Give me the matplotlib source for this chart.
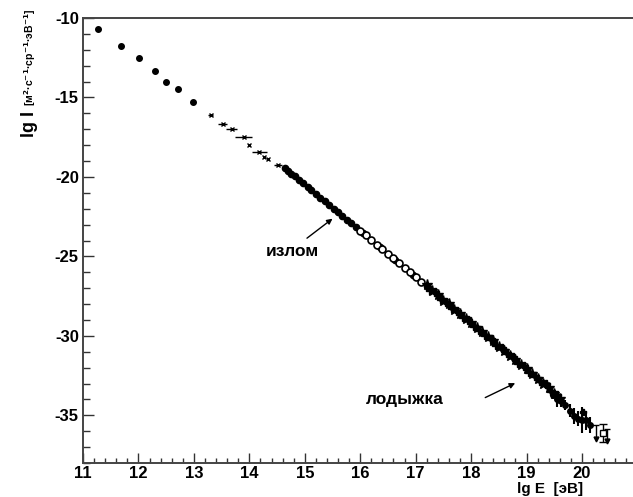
import numpy as np
import matplotlib
matplotlib.use("Agg")
import matplotlib.pyplot as plt
from matplotlib.ticker import MultipleLocator

plt.rcParams['font.family'] = ['Liberation Sans', 'DejaVu Sans']
plt.rcParams['font.weight'] = 'bold'
plt.rcParams['axes.unicode_minus'] = False

# direct measurements (big dots)
direct_x = [11.27, 11.68, 12.01, 12.30, 12.50, 12.71, 12.98]
direct_y = [-10.69, -11.76, -12.52, -13.33, -14.03, -14.47, -15.28]

# sparse points with horizontal bars
sparse_x = [13.30, 13.52, 13.68, 13.90, 13.99, 14.18, 14.27, 14.33, 14.52]
sparse_y = [-16.10, -16.67, -17.00, -17.50, -18.00, -18.40, -18.75, -18.90, -19.25]
sparse_xerr = [0.05, 0.08, 0.10, 0.15, 0.0, 0.13, 0.02, 0.02, 0.07]

# filled small circles
filled_x = [14.64, 14.70, 14.76, 14.82, 14.90, 14.97, 15.05, 15.12, 15.20,
            15.28, 15.36, 15.44, 15.52, 15.60, 15.68, 15.76, 15.84, 15.92,
            16.05, 16.35, 16.62, 16.95, 17.20]
filled_y = [-19.44, -19.62, -19.79, -19.97, -20.20, -20.40, -20.63, -20.84, -21.07,
            -21.30, -21.53, -21.76, -22.00, -22.23, -22.46, -22.69, -22.92, -23.16,
            -23.55, -24.42, -25.20, -26.15, -26.87]

# open circles
open_x = [16.00, 16.10, 16.20, 16.30, 16.40, 16.50, 16.60, 16.70, 16.80, 16.90, 17.00, 17.10]
open_y = [-23.39, -23.68, -23.97, -24.26, -24.55, -24.84, -25.13, -25.42, -25.71, -26.00, -26.29, -26.58]

# dense cluster (stars)
star1_x = [17.2, 17.3, 17.4, 17.5, 17.6, 17.7, 17.8, 17.9, 18.0, 18.1, 18.2, 18.3, 18.4,
           18.5, 18.6, 18.7, 18.8, 18.9, 19.0, 19.1, 19.2, 19.3, 19.4, 19.5, 19.6]
star1_y = [-26.80, -27.20, -27.40, -27.80, -28.00, -28.35, -28.60, -28.95, -29.20, -29.50,
           -29.75, -30.10, -30.35, -30.70, -30.95, -31.25, -31.55, -31.85, -32.10, -32.40,
           -32.70, -33.00, -33.30, -33.65, -33.95]
star2_x = [17.25, 17.35, 17.45, 17.55, 17.65, 17.75, 17.85, 17.95, 18.05, 18.15, 18.25, 18.35,
           18.45, 18.55, 18.65, 18.75, 18.85, 18.95, 19.05, 19.15, 19.25, 19.35, 19.45, 19.55]
star2_y = [-27.10, -27.25, -27.65, -27.85, -28.25, -28.45, -28.80, -29.00, -29.40, -29.60,
           -29.95, -30.20, -30.55, -30.75, -31.10, -31.35, -31.70, -31.90, -32.30, -32.50,
           -32.85, -33.05, -33.50, -33.70]

# highest energies with vertical errors
tail_x = [19.48, 19.55, 19.62, 19.70, 19.78, 19.86, 19.92, 20.00, 20.08, 20.15]
tail_y = [-33.70, -34.00, -34.10, -34.35, -34.70, -35.05, -35.20, -35.30, -35.30, -35.60]
tail_err = [0.3, 0.5, 0.4, 0.3, 0.4, 0.5, 0.5, 0.8, 0.6, 0.5]

extra_x = [20.01]
extra_y = [-34.78]

sq_x = [20.37]
sq_y = [-36.10]
sq_err = [0.55]

# upper limits
lim_x = [20.26, 20.46]
lim_top = [-35.60, -35.85]
lim_bot = [-36.50, -36.60]

fig = plt.figure(figsize=(6.33, 4.97), dpi=100)
ax = fig.add_axes([83/633, 34/497, 550/633, 445/497])

ax.plot(direct_x, direct_y, 'o', color='black', ms=4)
ax.errorbar(sparse_x, sparse_y, xerr=sparse_xerr, fmt='x', color='black', ms=3,
            elinewidth=1, capsize=0)
ax.plot(filled_x, filled_y, 'o', color='black', ms=4.5)
ax.plot(open_x, open_y, 'o', mfc='white', mec='black', ms=5, mew=1.2)
ax.plot(star1_x, star1_y, '*', color='black', ms=8)
ax.plot(star2_x, star2_y, 'P', color='black', ms=6)
ax.errorbar(tail_x, tail_y, yerr=tail_err, fmt='o', color='black', ms=4,
            elinewidth=1.5, capsize=0)
ax.plot(extra_x, extra_y, 'P', color='black', ms=5)
ax.errorbar(sq_x, sq_y, yerr=sq_err, fmt='s', mfc='white', mec='black', ms=4,
            ecolor='black', elinewidth=1, capsize=3)
ax.vlines(lim_x, lim_bot, lim_top, color='black', lw=1)
ax.plot(lim_x, lim_top, '_', color='black', ms=5, mew=1)
ax.plot(lim_x, lim_bot, 'v', color='black', ms=3.5)

# annotations
ax.annotate('', xy=(15.54, -22.52), xytext=(15.0, -23.96),
            arrowprops=dict(arrowstyle='-|>', color='black', lw=1, mutation_scale=8))
ax.text(14.78, -24.7, 'излом', ha='center', va='center', fontsize=12.5)
ax.annotate('', xy=(18.84, -32.9), xytext=(18.21, -33.96),
            arrowprops=dict(arrowstyle='-|>', color='black', lw=1, mutation_scale=8))
ax.text(16.80, -34.0, 'лодыжка', ha='center', va='center', fontsize=12.5)

ax.set_xlim(11, 20.92)
ax.set_ylim(-38, -10)
ax.xaxis.set_major_locator(MultipleLocator(1))
ax.xaxis.set_minor_locator(MultipleLocator(0.2))
ax.yaxis.set_major_locator(MultipleLocator(5))
ax.yaxis.set_minor_locator(MultipleLocator(1))
ax.tick_params(which='both', direction='in', width=1, color='#333333', labelsize=12)
ax.tick_params(axis='x', which='major', length=7, pad=2)
ax.tick_params(axis='x', which='minor', length=3.5)
ax.tick_params(axis='y', which='major', length=8, pad=3)
ax.tick_params(axis='y', which='minor', length=5)
for lab in ax.get_xticklabels() + ax.get_yticklabels():
    lab.set_fontweight('bold')

ax.spines['right'].set_visible(False)
for s in ['left', 'bottom', 'top']:
    ax.spines[s].set_color('#444444')
    ax.spines[s].set_linewidth(1.4)

fig.text(29/633, 1 - 137/497, 'lg I', rotation=90, ha='center', va='bottom', fontsize=13)
fig.text(30/633, 1 - 8/497, '[м$^{2}$·с$^{-1}$·ср$^{-1}$·эВ$^{-1}$]', rotation=90,
         ha='center', va='top', fontsize=7.5)
fig.text(550/633, 1/497, 'lg E  [эВ]', ha='center', va='bottom', fontsize=11)

plt.savefig('out.png', dpi=100)
